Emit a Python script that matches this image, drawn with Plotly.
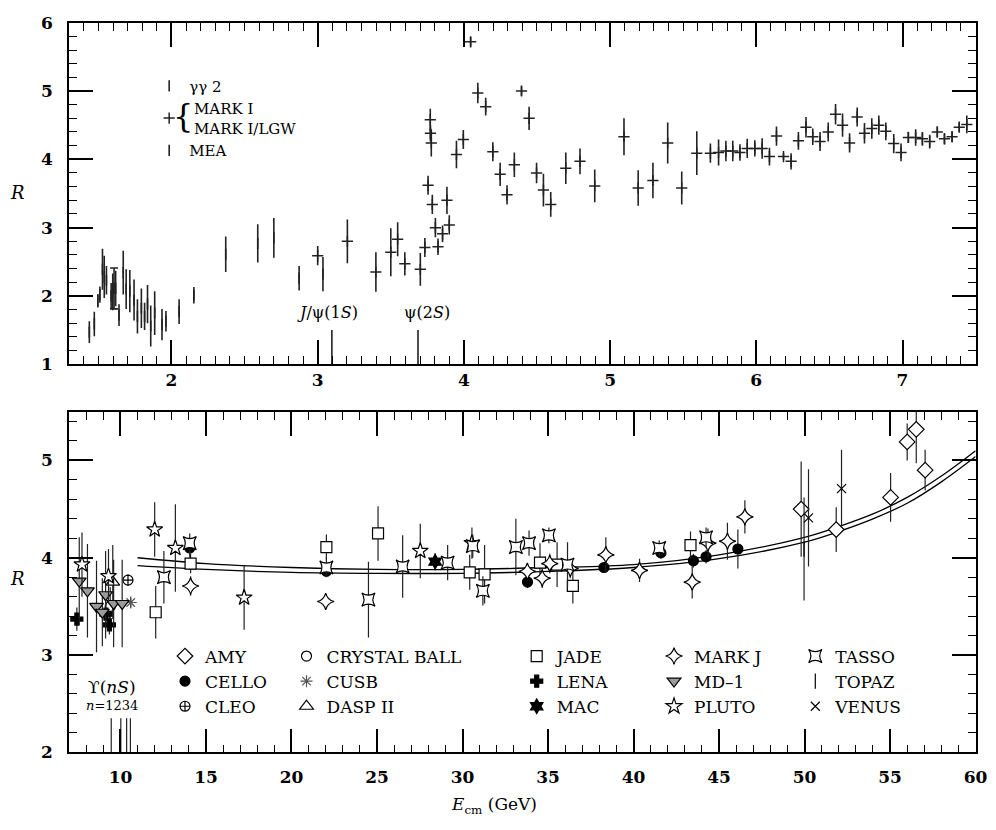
import plotly.graph_objects as go

FONT = "DejaVu Serif"

# ---------------- top panel: R at low energy ----------------
gg2_x = [1.438, 1.472, 1.496, 1.51, 1.528, 1.54, 1.555, 1.587, 1.598, 1.618, 1.641, 1.67, 1.69,
         1.715, 1.744, 1.767, 1.794, 1.816, 1.836, 1.858, 1.885, 1.935, 1.962, 2.052, 2.153,
         2.371, 2.59, 2.70, 2.873, 3.036]
gg2_y = [1.47, 1.59, 1.93, 2.02, 2.39, 2.28, 2.23, 2.00, 2.06, 2.11, 1.72, 2.34, 2.10,
         2.07, 1.94, 1.70, 1.82, 1.70, 1.88, 1.56, 1.75, 1.58, 1.63, 1.77, 2.01,
         2.61, 2.77, 2.85, 2.26, 2.32]
gg2_err = [0.16, 0.18, 0.10, 0.12, 0.30, 0.31, 0.21, 0.19, 0.27, 0.26, 0.16, 0.32, 0.29,
           0.31, 0.30, 0.25, 0.29, 0.20, 0.28, 0.30, 0.32, 0.23, 0.15, 0.18, 0.12,
           0.26, 0.28, 0.29, 0.18, 0.25]

mea_x = [1.607]
mea_y = [2.11]
mea_err = [0.30]

mark1_x = [3.0, 3.203, 3.398, 3.50, 3.547, 3.596, 3.702, 3.733, 3.755, 3.77, 3.771, 3.777,
           3.784, 3.805, 3.823, 3.854, 3.884, 3.90, 3.949, 3.996, 4.046, 4.095, 4.149, 4.198,
           4.248, 4.295, 4.345, 4.394, 4.446, 4.497, 4.544, 4.594, 4.697, 4.794, 4.895, 5.095,
           5.192, 5.293, 5.394, 5.49, 5.593, 5.686, 5.742, 5.792, 5.839, 5.888, 5.938, 5.99,
           6.04, 6.09, 6.138, 6.186, 6.238, 6.288, 6.34, 6.386, 6.436, 6.492, 6.542, 6.59,
           6.638, 6.69, 6.74, 6.79, 6.838, 6.886, 6.94, 6.99, 7.04, 7.09, 7.136, 7.186,
           7.238, 7.287, 7.339, 7.388, 7.44]
mark1_y = [2.59, 2.80, 2.35, 2.64, 2.83, 2.47, 2.39, 2.71, 3.62, 4.58, 4.38, 4.24,
           3.34, 3.00, 2.72, 2.91, 3.40, 3.04, 4.07, 4.29, 5.72, 4.97, 4.77, 4.11,
           3.78, 3.48, 3.92, 5.00, 4.60, 3.80, 3.55, 3.34, 3.87, 3.97, 3.61, 4.33,
           3.58, 3.69, 4.24, 3.58, 4.09, 4.09, 4.10, 4.12, 4.12, 4.10, 4.16, 4.16,
           4.16, 4.04, 4.34, 4.04, 3.97, 4.27, 4.47, 4.33, 4.26, 4.40, 4.66, 4.50,
           4.24, 4.62, 4.38, 4.45, 4.50, 4.41, 4.23, 4.10, 4.32, 4.32, 4.30, 4.26,
           4.40, 4.30, 4.33, 4.47, 4.51]
mark1_err = [0.14, 0.32, 0.29, 0.35, 0.25, 0.17, 0.24, 0.14, 0.14, 0.16, 0.12, 0.20,
             0.14, 0.14, 0.12, 0.12, 0.20, 0.14, 0.20, 0.14, 0.07, 0.15, 0.13, 0.14,
             0.17, 0.14, 0.18, 0.07, 0.17, 0.15, 0.24, 0.18, 0.23, 0.19, 0.24, 0.27,
             0.26, 0.26, 0.30, 0.24, 0.32, 0.14, 0.19, 0.15, 0.15, 0.12, 0.14, 0.12,
             0.15, 0.13, 0.14, 0.05, 0.12, 0.13, 0.15, 0.12, 0.14, 0.14, 0.15, 0.17,
             0.14, 0.14, 0.15, 0.15, 0.14, 0.13, 0.14, 0.13, 0.08, 0.12, 0.10, 0.10,
             0.08, 0.08, 0.08, 0.07, 0.13]

psi_x = [3.097, 3.686]
psi_top = [1.5, 1.5]
psi_labels = ["<i>J</i>/ψ(1<i>S</i>)", "ψ(2<i>S</i>)"]
psi_label_x = [3.07, 3.75]

# ---------------- bottom panel: R at higher energy ----------------
amy_x = [49.8, 51.85, 55.03, 56.0, 56.53, 57.05]
amy_y = [4.50, 4.29, 4.62, 5.19, 5.32, 4.90]
amy_e = [0.49, 0.23, 0.25, 0.19, 0.35, 0.21]

cello_x = [14.05, 22.04, 33.8, 38.27, 41.6, 43.5, 44.24, 46.1]
cello_y = [4.10, 3.86, 3.75, 3.90, 4.05, 3.97, 4.01, 4.09]
cello_e = [0.10, 0.05, 0.06, 0.05, 0.06, 0.07, 0.07, 0.20]

cleo_x = [10.44]
cleo_y = [3.77]
cleo_e = [0.06]

cball_x = [9.40]
cball_y = [3.50]
cball_e = [0.20]

cusb_x = [10.60]
cusb_y = [3.54]
cusb_e = [0.05]

dasp_x = [9.55]
dasp_y = [3.75]
dasp_e = [0.38]

jade_x = [12.06, 14.1, 22.04, 25.06, 30.42, 31.29, 34.53, 35.53, 36.45, 43.33]
jade_y = [3.44, 3.94, 4.11, 4.25, 3.85, 3.83, 3.95, 3.93, 3.71, 4.13]
jade_e = [0.27, 0.10, 0.13, 0.28, 0.18, 0.30, 0.20, 0.23, 0.18, 0.14]

lena_x = [7.45, 9.15, 9.35]
lena_y = [3.37, 3.42, 3.31]
lena_e = [0.12, 0.12, 0.10]

mac_x = [28.4]
mac_y = [3.96]
mac_e = [0.09]

markj_x = [14.1, 22.0, 33.79, 34.66, 35.1, 36.3, 38.38, 40.35, 43.43, 44.35, 45.49, 46.51]
markj_y = [3.71, 3.55, 3.86, 3.79, 3.94, 3.89, 4.03, 3.87, 3.75, 4.15, 4.17, 4.42]
markj_e = [0.10, 0.08, 0.08, 0.10, 0.10, 0.10, 0.18, 0.12, 0.17, 0.15, 0.19, 0.17]

md1_x = [7.59, 8.07, 8.60, 8.94, 9.13, 9.60, 10.10]
md1_y = [3.76, 3.66, 3.50, 3.44, 3.62, 3.53, 3.53]
md1_e = [0.45, 0.48, 0.47, 0.35, 0.45, 0.45, 0.45]

pluto_x = [7.75, 9.30, 12.0, 13.21, 17.23, 27.53, 30.55]
pluto_y = [3.93, 3.81, 4.29, 4.10, 3.59, 4.07, 4.15]
pluto_e = [0.33, 0.28, 0.28, 0.45, 0.33, 0.28, 0.16]

tasso_x = [12.54, 14.05, 22.04, 24.5, 26.5, 29.13, 30.6, 31.19, 33.12, 33.89, 35.05, 36.14, 41.5, 44.24]
tasso_y = [3.80, 4.15, 3.90, 3.57, 3.91, 3.95, 4.12, 3.66, 4.11, 4.15, 4.23, 3.93, 4.10, 4.21]
tasso_e = [0.27, 0.10, 0.10, 0.39, 0.32, 0.18, 0.12, 0.15, 0.29, 0.13, 0.08, 0.23, 0.08, 0.10]

topaz_x = [49.97]
topaz_y = [4.09]
topaz_e = [0.53]

venus_x = [50.23, 52.16]
venus_y = [4.41, 4.71]
venus_e = [0.50, 0.40]

fit_x = [11.0, 15.0, 20.0, 25.0, 30.0, 35.0, 40.0, 45.0, 50.0, 52.0, 54.0, 56.0, 58.0, 60.0]
fit_hi = [4.00, 3.94, 3.90, 3.88, 3.88, 3.90, 3.93, 4.03, 4.21, 4.32, 4.45, 4.62, 4.84, 5.10]
fit_lo = [3.92, 3.88, 3.85, 3.84, 3.84, 3.86, 3.90, 3.99, 4.16, 4.27, 4.40, 4.56, 4.78, 5.04]

ups_x = [9.46, 10.02, 10.36, 10.58]
ups_top = [2.35, 2.35, 2.35, 2.35]

# tick values
top_xticks = [2, 3, 4, 5, 6, 7]
top_yticks = [1, 2, 3, 4, 5, 6]
bot_xticks = [10, 15, 20, 25, 30, 35, 40, 45, 50, 55, 60]
bot_yticks = [2, 3, 4, 5]

fig = go.Figure()

# ----- top panel traces -----
ERRC = "#222222"
fig.add_trace(go.Scatter(
    x=gg2_x, y=gg2_y, mode="markers", name="γγ 2", legend="legend",
    marker=dict(symbol="line-ns-open", size=8, color=ERRC, line=dict(color=ERRC, width=1.6)),
    error_y=dict(type="data", array=gg2_err, color=ERRC, thickness=1.6, width=0),
    xaxis="x", yaxis="y"))
fig.add_trace(go.Scatter(
    x=mark1_x, y=mark1_y, mode="markers", name="\u00a0MARK I<br>\u00a0MARK I/LGW", legend="legend",
    marker=dict(symbol="cross-thin-open", size=8, color=ERRC, line=dict(color=ERRC, width=1.5)),
    error_y=dict(type="data", array=mark1_err, color=ERRC, thickness=1.6, width=0),
    xaxis="x", yaxis="y"))
fig.add_trace(go.Scatter(
    x=mea_x, y=mea_y, mode="markers", name="MEA", legend="legend",
    marker=dict(symbol="line-ns-open", size=8, color=ERRC, line=dict(color=ERRC, width=1.6)),
    error_y=dict(type="data", array=mea_err, color=ERRC, thickness=1.6, width=4),
    xaxis="x", yaxis="y"))
for rx, rt in zip(psi_x, psi_top):
    fig.add_trace(go.Scatter(x=[rx, rx], y=[1, rt], mode="lines", showlegend=False,
                             line=dict(color=ERRC, width=1.6), xaxis="x", yaxis="y"))

# ----- bottom panel traces -----
for curve in [fit_hi, fit_lo]:
    fig.add_trace(go.Scatter(x=fit_x, y=curve, mode="lines", showlegend=False,
                             line=dict(color="black", width=1.3, shape="spline"),
                             xaxis="x2", yaxis="y2"))
for ux, ut in zip(ups_x, ups_top):
    fig.add_trace(go.Scatter(x=[ux, ux], y=[2, ut], mode="lines", showlegend=False,
                             line=dict(color=ERRC, width=1.2), xaxis="x2", yaxis="y2"))

def add_series(name, xs, ys, es, legend, symbol, size, fill="white", lw=1.2, lcolor="black"):
    if symbol.endswith("-open"):
        fill = lcolor
    fig.add_trace(go.Scatter(
        x=xs, y=ys, mode="markers", name=name, legend=legend,
        marker=dict(symbol=symbol, size=size, color=fill, line=dict(color=lcolor, width=lw)),
        error_y=dict(type="data", array=es, color=ERRC, thickness=1.2, width=0),
        xaxis="x2", yaxis="y2"))

# column 1
add_series("AMY", amy_x, amy_y, amy_e, "legend2", "diamond", 12)
add_series("CELLO", cello_x, cello_y, cello_e, "legend2", "circle", 10, fill="black")
add_series("CLEO", cleo_x, cleo_y, cleo_e, "legend2", "circle-cross", 10)
# column 2
add_series("CRYSTAL BALL", cball_x, cball_y, cball_e, "legend3", "circle", 10)
add_series("CUSB", cusb_x, cusb_y, cusb_e, "legend3", "asterisk-open", 10, lcolor="#555555")
add_series("DASP II", dasp_x, dasp_y, dasp_e, "legend3", "triangle-up", 12)
# column 3
add_series("JADE", jade_x, jade_y, jade_e, "legend4", "square", 11)
add_series("LENA", lena_x, lena_y, lena_e, "legend4", "cross", 10, fill="black")
add_series("MAC", mac_x, mac_y, mac_e, "legend4", "hexagram", 11, fill="black")
# column 4
add_series("MARK J", markj_x, markj_y, markj_e, "legend5", "star-diamond", 12)
add_series("MD\u20131", md1_x, md1_y, md1_e, "legend5", "triangle-down", 12, fill="#9a9a9a")
add_series("PLUTO", pluto_x, pluto_y, pluto_e, "legend5", "star", 12)
# column 5
add_series("TASSO", tasso_x, tasso_y, tasso_e, "legend6", "star-square", 12)
add_series("TOPAZ", topaz_x, topaz_y, topaz_e, "legend6", "line-ns-open", 11)
add_series("VENUS", venus_x, venus_y, venus_e, "legend6", "x-thin-open", 9)

# empty traces that only anchor the mirror axes (for minor ticks on top/right)
fig.add_trace(go.Scatter(x=[None], y=[None], xaxis="x3", yaxis="y3", showlegend=False, hoverinfo="skip"))
fig.add_trace(go.Scatter(x=[None], y=[None], xaxis="x4", yaxis="y4", showlegend=False, hoverinfo="skip"))

W, H = 996, 830
XD = [70 / W, 987.5 / W]
TOP_D = [1 - 363 / H, 1 - 13 / H]
BOT_D = [1 - 760.7 / H, 1 - 411.7 / H]
TICKFONT = dict(family=FONT, size=17, color="black", weight="bold")

def minor(dt):
    return dict(ticks="inside", ticklen=8, tickwidth=1.2, tickcolor="black", dtick=dt, tick0=0)

def axis_common(standoff=0):
    return dict(showline=True, linecolor="black", linewidth=1.6, mirror="allticks",
                ticks="inside", ticklen=24, tickwidth=1.5, tickcolor="black",
                showgrid=False, zeroline=False, ticklabelstandoff=standoff,
                ticklabeloverflow="allow", tickfont=TICKFONT)

def mirror_axis(over, side, rng, vals, dt, anchor):
    return dict(overlaying=over, side=side, range=rng, tickvals=vals, anchor=anchor,
                showticklabels=False, showline=False, showgrid=False, zeroline=False,
                ticks="inside", ticklen=24, tickwidth=1.5, tickcolor="black", minor=minor(dt))

ann = []
for lab, lx in zip(psi_labels, psi_label_x):
    ann.append(dict(x=lx, y=1.76, xref="x", yref="y", text=lab, showarrow=False,
                    xanchor="center", yanchor="middle",
                    font=dict(family=FONT, size=16, color="black")))
ann.append(dict(x=9.5, y=2.67, xref="x2", yref="y2", text="ϒ(<i>nS</i>)", showarrow=False,
                xanchor="center", yanchor="middle", bgcolor="rgba(255,255,255,0)",
                font=dict(family=FONT, size=17, color="black")))
ann.append(dict(x=9.5, y=2.48, xref="x2", yref="y2", text="<i>n</i>=1234", showarrow=False,
                xanchor="center", yanchor="middle", font=dict(family=FONT, size=13, color="black")))
ann.append(dict(x=185 / W, y=1 - 109 / H, xref="paper", yref="paper", text="{", showarrow=False,
                xanchor="center", yanchor="middle", font=dict(family=FONT, size=32, color="black")))
ann.append(dict(x=18 / W, y=1 - 187 / H, xref="paper", yref="paper", text="<i>R</i>", showarrow=False,
                xanchor="center", yanchor="middle", font=dict(family=FONT, size=18, color="black")))
ann.append(dict(x=18 / W, y=1 - 583 / H, xref="paper", yref="paper", text="<i>R</i>", showarrow=False,
                xanchor="center", yanchor="middle", font=dict(family=FONT, size=18, color="black")))
ann.append(dict(x=500 / W, y=1 - 815 / H, xref="paper", yref="paper",
                text="<i>E</i><sub>cm</sub> (GeV)", showarrow=False,
                xanchor="center", yanchor="middle", font=dict(family=FONT, size=17, color="black")))

def leg(xpx, ypx, size=17):
    return dict(x=xpx / W, y=1 - ypx / H, xanchor="left", yanchor="top",
                bgcolor="rgba(0,0,0,0)", borderwidth=0, itemwidth=30,
                font=dict(family=FONT, size=size, color="black"), tracegroupgap=0)

fig.update_layout(
    width=W, height=H, autosize=False, margin=dict(l=0, r=0, t=0, b=0),
    paper_bgcolor="white", plot_bgcolor="white",
    font=dict(family=FONT, color="black"),
    xaxis=dict(domain=XD, range=[1.3, 7.5], anchor="y", tickvals=top_xticks,
               minor=minor(0.1), **axis_common(0)),
    yaxis=dict(domain=TOP_D, range=[1, 6], anchor="x", tickvals=top_yticks,
               minor=minor(0.2), **axis_common(11)),
    xaxis2=dict(domain=XD, range=[7, 60], anchor="y2", tickvals=bot_xticks,
                minor=minor(1), **axis_common(8)),
    yaxis2=dict(domain=BOT_D, range=[2, 5.5], anchor="x2", tickvals=bot_yticks,
                minor=minor(0.2), **axis_common(11)),
    xaxis3=mirror_axis("x", "top", [1.3, 7.5], top_xticks, 0.1, "y3"),
    yaxis3=mirror_axis("y", "right", [1, 6], top_yticks, 0.2, "x3"),
    xaxis4=mirror_axis("x2", "top", [7, 60], bot_xticks, 1, "y4"),
    yaxis4=mirror_axis("y2", "right", [2, 5.5], bot_yticks, 0.2, "x4"),
    legend=leg(151, 61, 15),
    legend2=leg(167, 644),
    legend3=leg(290, 644),
    legend4=leg(523, 644),
    legend5=leg(662, 644),
    legend6=leg(805, 644),
    annotations=ann,
)

fig.write_html("out.html", config={"displayModeBar": False, "responsive": False},
               post_script="document.body.style.margin='0';document.body.style.overflow='hidden';")
